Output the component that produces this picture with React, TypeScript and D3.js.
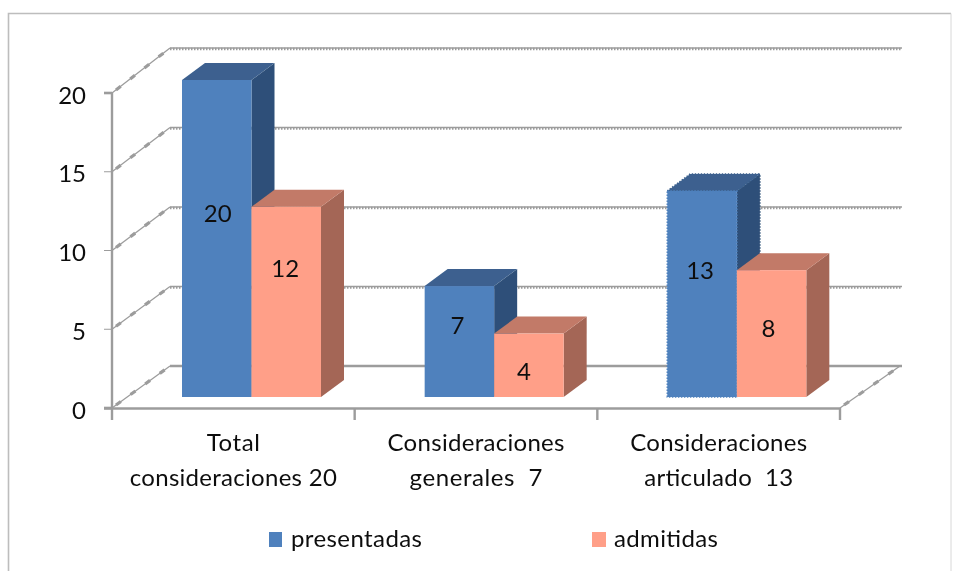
import React from "react";
import * as d3 from "d3";

const categories = [["Total", "consideraciones 20"], ["Consideraciones", "generales  7"], ["Consideraciones", "articulado  13"]];
const presentadas = [20, 7, 13];
const admitidas = [12, 4, 8];
const yTicks = [0, 5, 10, 15, 20];
const seriesNames = ["presentadas", "admitidas"];
const seriesColors = [
  { front: "#4f81bd", top: "#3c618f", side: "#2f5079" },
  { front: "#ff9f88", top: "#c27a67", side: "#a46656" },
];

const W = 953, H = 571;
const FONT = "Lato, 'Open Sans', sans-serif";
const GRID = "#9c9c9c";
const FS = 24;

const yFront = d3.scaleLinear().domain([0, 20]).range([408, 93]);
const yBack = d3.scaleLinear().domain([0, 20]).range([366, 48]);
const yBar = d3.scaleLinear().domain([0, 20]).range([397, 80]);
const x = d3.scaleBand().domain(["0", "1", "2"]).range([112, 840]).padding(0);
const DX = 58;
const BAR_OFF = 70, BAR_W = 69.5, BDX = 23, BDY = 17;
const poly = d3.line();

// nudges of the value labels relative to the bar's front-face centre
const labelDy = [[-25, -33], [-16, 7], [-23, -5]];
const labelDx = [[1, -1], [-2, -5], [-2, -3]];
const catLabelWidths = [[53, 207], [177, 133], [177, 149]];

function Bar({ x0, v, c, jag }: any) {
  const t = yBar(v), b = yBar(0), x1 = x0 + BAR_W;
  const j = (col: string) => (jag ? { stroke: col, strokeWidth: 1.6, strokeDasharray: "1.5 1.5" } : {});
  return (
    <g>
      <path d={poly([[x1, t], [x1 + BDX, t - BDY], [x1 + BDX, b - BDY], [x1, b]])!} fill={c.side} {...j(c.side)} />
      <path d={poly([[x0, t], [x0 + BDX, t - BDY], [x1 + BDX, t - BDY], [x1, t]])!} fill={c.top} {...j(c.top)} />
      <rect x={x0} y={t} width={BAR_W} height={b - t} fill={c.front} {...j(c.front)} />
    </g>
  );
}

export default function App() {
  const bands = [0, 1, 2];
  return (
    <svg width={W} height={H} viewBox={`0 0 ${W} ${H}`} style={{ position: "absolute", left: 0, top: 0, background: "#fff" }}>
      <defs>
        <filter id="soft" x="-5%" y="-5%" width="110%" height="110%">
          <feGaussianBlur stdDeviation="0.45" />
        </filter>
      </defs>
      <path d="M8.5 571V13.5H951" fill="none" stroke="#bdbdbd" strokeWidth={1.6} />
      <path d="M951 13.5V571" fill="none" stroke="#d8d8d8" strokeWidth={1} />
      <g filter="url(#soft)">
        {yTicks.map((t) => {
          const ly = yBack(t), fy = yFront(t);
          return (
            <g key={t}>
              <line x1={112} y1={fy} x2={112 + DX} y2={ly} stroke={GRID} strokeWidth={1.3} />
              <line x1={116} y1={fy - 3} x2={112 + DX} y2={ly} stroke={GRID} strokeWidth={3.2} strokeDasharray="6 12" />
              {t > 0 ? (
                <>
                  <line x1={170} y1={ly} x2={902} y2={ly} stroke={GRID} strokeWidth={1.4} />
                  <line x1={170} y1={ly + 1} x2={902} y2={ly + 1} stroke={GRID} strokeWidth={2.4} strokeDasharray="1.5 1.5" />
                </>
              ) : (
                <line x1={170} y1={ly} x2={902} y2={ly} stroke={GRID} strokeWidth={2.4} />
              )}
              <line x1={104} y1={fy} x2={112} y2={fy} stroke={GRID} strokeWidth={t === 0 || t === 20 ? 2.6 : 1} />
              <text x={86} y={fy + 10.5} textAnchor="end" fontFamily={FONT} fontSize={FS} fill="#111">{t}</text>
            </g>
          );
        })}
        <line x1={840} y1={408} x2={900} y2={366} stroke={GRID} strokeWidth={1.3} />
        <line x1={844} y1={405} x2={900} y2={366} stroke={GRID} strokeWidth={3.2} strokeDasharray="6 12" />
        <line x1={112} y1={93} x2={112} y2={420} stroke={GRID} strokeWidth={2.4} />
        <line x1={104} y1={408.5} x2={840} y2={408.5} stroke={GRID} strokeWidth={2.4} />
        {[1, 2].map((i) => (
          <line key={i} x1={x(String(i))!} y1={408} x2={x(String(i))!} y2={420} stroke={GRID} strokeWidth={2.4} />
        ))}
        <line x1={840} y1={408} x2={840} y2={420} stroke={GRID} strokeWidth={2.4} />
        {bands.map((i) => {
          const x0 = x(String(i))! + BAR_OFF;
          return (
            <g key={i}>
              <Bar x0={x0} v={presentadas[i]} c={seriesColors[0]} jag={i === 2} />
              <Bar x0={x0 + BAR_W} v={admitidas[i]} c={seriesColors[1]} jag={false} />
            </g>
          );
        })}
        {bands.map((i) => {
          const x0 = x(String(i))! + BAR_OFF;
          return [presentadas[i], admitidas[i]].map((v, s) => (
            <text key={s} x={x0 + BAR_W * s + BAR_W / 2 + labelDx[i][s]} y={(yBar(v) + yBar(0)) / 2 + labelDy[i][s] + 8}
              textAnchor="middle" fontFamily={FONT} fontSize={FS} fill="#111">{v}</text>
          ));
        })}
        {categories.map((lines, i) => {
          const cx = x(String(i))! + x.bandwidth() / 2;
          return lines.map((l, j) => (
            <text key={j} x={cx} y={451 + j * 35} textAnchor="middle" fontFamily={FONT} fontSize={FS} fill="#111"
              textLength={catLabelWidths[i][j]} lengthAdjust="spacing" style={{ whiteSpace: "pre" }}>{l}</text>
          ));
        })}
        <rect x={269} y={532} width={13} height={15} fill={seriesColors[0].front} />
        <text x={291} y={547} fontFamily={FONT} fontSize={FS} fill="#111" textLength={131} lengthAdjust="spacing">{seriesNames[0]}</text>
        <rect x={592} y={532} width={14} height={15} fill={seriesColors[1].front} />
        <text x={614} y={547} fontFamily={FONT} fontSize={FS} fill="#111" textLength={104} lengthAdjust="spacing">{seriesNames[1]}</text>
      </g>
    </svg>
  );
}
